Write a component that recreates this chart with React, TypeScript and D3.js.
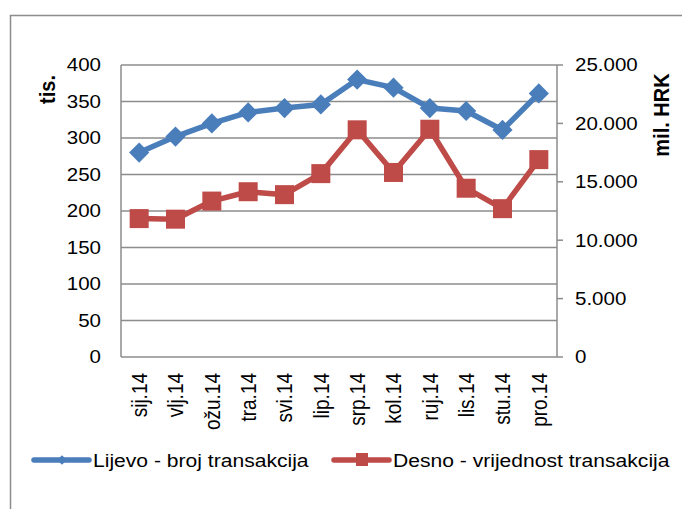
import React, { useEffect, useRef } from 'react';
import * as d3 from 'd3';

const months = ['sij.14', 'vlj.14', 'ožu.14', 'tra.14', 'svi.14', 'lip.14', 'srp.14', 'kol.14', 'ruj.14', 'lis.14', 'stu.14', 'pro.14'];
const brojTransakcija = [280, 302, 320, 335, 341, 346, 380, 369, 341, 337, 311, 361];
const vrijednostTransakcija = [11850, 11800, 13350, 14150, 13900, 15700, 19450, 15800, 19500, 14450, 12700, 16900];
const leftTicks = [0, 50, 100, 150, 200, 250, 300, 350, 400];
const rightTicks = [0, 5000, 10000, 15000, 20000, 25000];
const seriesNames = ['Lijevo - broj transakcija', 'Desno - vrijednost transakcija'];

const BLUE = '#4a7ebb';
const RED = '#be4b48';
const GRID = '#8c8c8c';
const FONT = '"Liberation Sans", Arial, sans-serif';
// tekst u originalu je malo razvučen vodoravno
const SX = 1.14;

// Graf: dvije osi, broj i vrijednost transakcija
const Chart: React.FC = () => {
    const ref = useRef<SVGSVGElement>(null);

    useEffect(() => {
        const svg = d3.select(ref.current);
        svg.selectAll('*').remove();

        const left = 121, right = 557, top = 65, bottom = 357;

        const x = d3.scaleBand().domain(months).range([left, right]);
        const yL = d3.scaleLinear().domain([0, 400]).range([bottom, top]);
        const yR = d3.scaleLinear().domain([0, 25000]).range([bottom, top]);
        const cx = (m: string) => (x(m) || 0) + x.bandwidth() / 2;

        // okvir
        svg.append('rect')
            .attr('x', 10.5).attr('y', 15.5)
            .attr('width', 700).attr('height', 600)
            .attr('fill', 'white').attr('stroke', '#8c8c8c').attr('stroke-width', 1.5);

        // mreža
        svg.append('g')
            .selectAll('line')
            .data(leftTicks)
            .enter()
            .append('line')
            .attr('x1', left).attr('x2', right)
            .attr('y1', (d) => yL(d)).attr('y2', (d) => yL(d))
            .attr('stroke', GRID).attr('stroke-width', 1.5);

        svg.append('line')
            .attr('x1', left).attr('x2', left).attr('y1', top).attr('y2', bottom)
            .attr('stroke', GRID).attr('stroke-width', 1.5);
        svg.append('line')
            .attr('x1', right).attr('x2', right).attr('y1', top).attr('y2', bottom)
            .attr('stroke', GRID).attr('stroke-width', 1.5);

        // desne oznake
        svg.append('g')
            .selectAll('line')
            .data(rightTicks)
            .enter()
            .append('line')
            .attr('x1', right).attr('x2', right + 6)
            .attr('y1', (d) => yR(d)).attr('y2', (d) => yR(d))
            .attr('stroke', GRID).attr('stroke-width', 1.5);

        const fmt = (d: number) => d === 0 ? '0' : d3.format(',')(d).replace(/,/g, '.');

        svg.append('g')
            .selectAll('text')
            .data(leftTicks)
            .enter()
            .append('text')
            .attr('transform', (d) => `translate(101,${yL(d)}) scale(${SX},1)`)
            .attr('dy', '0.36em')
            .attr('text-anchor', 'end')
            .style('font-family', FONT).style('font-size', '18px')
            .text((d) => d);

        svg.append('g')
            .selectAll('text')
            .data(rightTicks)
            .enter()
            .append('text')
            .attr('transform', (d) => `translate(575,${yR(d)}) scale(${SX},1)`)
            .attr('dy', '0.36em')
            .style('font-family', FONT).style('font-size', '18px')
            .text(fmt);

        svg.append('g')
            .selectAll('text')
            .data(months)
            .enter()
            .append('text')
            .attr('transform', (d) => `translate(${cx(d)},373) scale(${SX},1) rotate(-90)`)
            .attr('dy', '0.36em')
            .attr('text-anchor', 'end')
            .style('font-family', FONT).style('font-size', '19px')
            .text((d) => d);

        // naslovi osi
        svg.append('text')
            .attr('transform', `translate(46.5,89.5) scale(${SX},1) rotate(-90)`)
            .attr('dy', '0.36em').attr('text-anchor', 'middle')
            .style('font-family', FONT).style('font-size', '20px').style('font-weight', 'bold')
            .text('tis.');
        svg.append('text')
            .attr('transform', `translate(660.5,115) scale(${SX},1) rotate(-90)`)
            .attr('dy', '0.36em').attr('text-anchor', 'middle')
            .style('font-family', FONT).style('font-size', '20px').style('font-weight', 'bold')
            .text('mil. HRK');

        // linije
        const lineL = d3.line<number>().x((_, i) => cx(months[i])).y((d) => yL(d));
        const lineR = d3.line<number>().x((_, i) => cx(months[i])).y((d) => yR(d));

        svg.append('path').datum(vrijednostTransakcija)
            .attr('d', lineR).attr('fill', 'none').attr('stroke', RED).attr('stroke-width', 5.5)
            .attr('stroke-linejoin', 'round');
        svg.append('g')
            .selectAll('rect')
            .data(vrijednostTransakcija)
            .enter()
            .append('rect')
            .attr('x', (_, i) => cx(months[i]) - 9.5).attr('y', (d) => yR(d) - 9.5)
            .attr('width', 19).attr('height', 19)
            .attr('fill', RED);

        svg.append('path').datum(brojTransakcija)
            .attr('d', lineL).attr('fill', 'none').attr('stroke', BLUE).attr('stroke-width', 5.5)
            .attr('stroke-linejoin', 'round');
        const diamond = d3.symbol().type(d3.symbolDiamond2).size(260);
        svg.append('g')
            .selectAll('path')
            .data(brojTransakcija)
            .enter()
            .append('path')
            .attr('d', diamond)
            .attr('transform', (d, i) => `translate(${cx(months[i])},${yL(d)})`)
            .attr('fill', BLUE);

        // legenda
        const leg = svg.append('g');
        leg.append('line').attr('x1', 34).attr('x2', 89).attr('y1', 460).attr('y2', 460)
            .attr('stroke', BLUE).attr('stroke-width', 5.5).attr('stroke-linecap', 'round');
        leg.append('path').attr('d', d3.symbol().type(d3.symbolDiamond2).size(60))
            .attr('transform', 'translate(62,460)').attr('fill', BLUE);
        leg.append('text').attr('transform', `translate(93,460) scale(${SX},1)`).attr('dy', '0.36em')
            .style('font-family', FONT).style('font-size', '18.5px').text(seriesNames[0]);

        leg.append('line').attr('x1', 334).attr('x2', 389).attr('y1', 460).attr('y2', 460)
            .attr('stroke', RED).attr('stroke-width', 5.5).attr('stroke-linecap', 'round');
        leg.append('rect').attr('x', 356).attr('y', 453).attr('width', 12).attr('height', 13)
            .attr('fill', RED);
        leg.append('text').attr('transform', `translate(393,460) scale(${SX},1)`).attr('dy', '0.36em')
            .style('font-family', FONT).style('font-size', '18.5px').text(seriesNames[1]);
    }, []);

    return <svg ref={ref} width={682} height={509} style={{ position: 'absolute', left: 0, top: 0 }}></svg>;
};

export default function App() {
    return <Chart />;
}
